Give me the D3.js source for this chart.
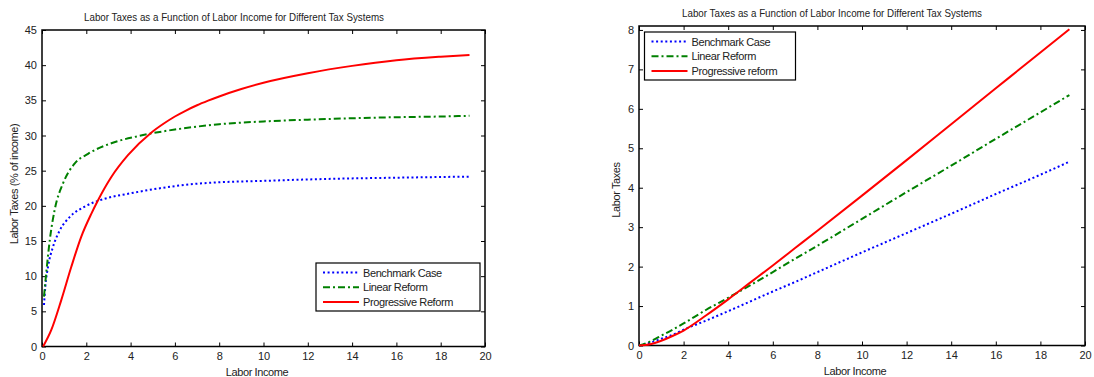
<!DOCTYPE html>
<html lang="en">
<head>
  <meta charset="UTF-8">
  <title>Labor Taxes as a Function of Labor Income</title>
  <style>
    body { margin: 0; background: #fff; font-family: "Liberation Sans", Arial, sans-serif; }
    svg text { font-family: "Liberation Sans", Arial, sans-serif; fill: #222; }
  </style>
</head>
<body>
  <svg width="1094" height="377"></svg>
  <script src="https://d3js.org/d3.v7.min.js"></script>
  <script>

// ---- left panel: average tax rate (% of income) ----
const benchX    = [0.09, 0.15, 0.27, 0.5, 0.8, 1.25, 1.93, 2.83, 4.03, 6, 6.83, 8, 10, 12, 14, 16, 18, 19.3];
const benchRate = [5.9, 8.5, 11.3, 14.2, 16.5, 18.4, 19.9, 21.0, 21.8, 22.8, 23.1, 23.35, 23.55, 23.75, 23.9, 24.0, 24.1, 24.15];

const linX    = [0.09, 0.19, 0.35, 0.57, 0.95, 1.47, 2.08, 3.13, 4.33, 6, 6.83, 8, 10, 12, 14, 16, 18, 19.3];
const linRate = [7.1, 10.4, 15.1, 19.4, 23.2, 26.0, 27.4, 28.9, 29.9, 30.85, 31.2, 31.6, 32.0, 32.25, 32.45, 32.6, 32.7, 32.8];

const progX    = [0.05, 0.42, 0.87, 1.32, 1.77, 2.23, 2.53, 3.13, 3.88, 4.93, 5.5, 6, 6.5, 7, 7.5, 8, 9, 10, 12, 14, 16, 18, 19.3];
const progRate = [0, 2.35, 6.6, 11.3, 15.6, 18.9, 20.8, 24.1, 27.2, 30.4, 31.7, 32.7, 33.55, 34.3, 34.95, 35.55, 36.6, 37.5, 38.85, 39.9, 40.7, 41.2, 41.45];

// ---- right panel: tax level ----
const levelX     = [0, 0.5, 1, 1.5, 2, 3, 4, 5, 6, 7, 8, 10, 12, 14, 16, 18, 19.3];
const benchLevel = [0, 0.07, 0.17, 0.27, 0.40, 0.63, 0.87, 1.12, 1.37, 1.61, 1.86, 2.36, 2.85, 3.34, 3.84, 4.33, 4.66];
const linLevel   = [0, 0.10, 0.25, 0.40, 0.56, 0.90, 1.21, 1.53, 1.86, 2.20, 2.53, 3.21, 3.89, 4.56, 5.24, 5.91, 6.35];
const progLevel  = [0, 0.03, 0.12, 0.24, 0.38, 0.76, 1.17, 1.60, 2.03, 2.47, 2.91, 3.80, 4.70, 5.61, 6.52, 7.43, 8.02];

const xTicks     = [0, 2, 4, 6, 8, 10, 12, 14, 16, 18, 20];
const yTicksLeft = [0, 5, 10, 15, 20, 25, 30, 35, 40, 45];
const yTicksRight = [0, 1, 2, 3, 4, 5, 6, 7, 8];

const titleText = "Labor Taxes as a Function of Labor Income for Different Tax Systems";

const styles = {
  bench: { color: "#0000ff", dash: "2,2.6" },
  lin:   { color: "#008000", dash: "7,3,2,3" },
  prog:  { color: "#ff0000", dash: null }
};

const svg = d3.select("svg");

function zip(xs, ys) { return xs.map((x, i) => [x, ys[i]]); }

function panel(cfg) {
  const x = d3.scaleLinear().domain([0, 20]).range([cfg.left, cfg.right]);
  const y = d3.scaleLinear().domain(cfg.yDomain).range([cfg.bottom, cfg.top]);
  const g = svg.append("g");

  // title (MATLAB puts it a bit left of centre here)
  g.append("text")
    .attr("x", cfg.titleX).attr("y", cfg.titleY)
    .attr("textLength", 300).attr("lengthAdjust", "spacingAndGlyphs")
    .style("font-size", "10.5px")
    .text(titleText);

  const tickFont = sel => sel.selectAll("text").style("font-size", "11px").style("font-family", "Liberation Sans, Arial, sans-serif").attr("fill", "#222");

  g.append("g").attr("transform", `translate(0,${cfg.bottom})`)
    .call(d3.axisBottom(x).tickValues(xTicks).tickSize(-4).tickPadding(6))
    .call(a => a.select(".domain").remove()).call(tickFont);
  g.append("g").attr("transform", `translate(0,${cfg.top})`)
    .call(d3.axisTop(x).tickValues(xTicks).tickSize(-4).tickFormat(""))
    .call(a => a.select(".domain").remove());
  g.append("g").attr("transform", `translate(${cfg.left},0)`)
    .call(d3.axisLeft(y).tickValues(cfg.yTicks).tickSize(-4).tickPadding(5))
    .call(a => a.select(".domain").remove()).call(tickFont);
  g.append("g").attr("transform", `translate(${cfg.right},0)`)
    .call(d3.axisRight(y).tickValues(cfg.yTicks).tickSize(-4).tickFormat(""))
    .call(a => a.select(".domain").remove());

  g.append("rect")
    .attr("x", cfg.left).attr("y", cfg.top)
    .attr("width", cfg.right - cfg.left).attr("height", cfg.bottom - cfg.top)
    .attr("fill", "none").attr("stroke", "#000").attr("stroke-width", 1.5);

  const line = d3.line().x(d => x(d[0])).y(d => y(d[1])).curve(d3.curveMonotoneX);
  cfg.series.forEach(s => {
    g.append("path")
      .datum(s.points)
      .attr("fill", "none")
      .attr("stroke", styles[s.key].color)
      .attr("stroke-width", 2)
      .attr("stroke-dasharray", styles[s.key].dash)
      .attr("d", line);
  });

  // axis labels
  g.append("text")
    .attr("x", cfg.xLabelX).attr("y", cfg.bottom + 29)
    .attr("text-anchor", "middle")
    .style("font-size", "11px").style("letter-spacing", "-0.4px")
    .text("Labor Income");
  g.append("text")
    .attr("transform", `translate(${cfg.yLabelX},${cfg.yLabelY}) rotate(-90)`)
    .attr("text-anchor", "middle")
    .style("font-size", "11px").style("letter-spacing", "-0.4px")
    .text(cfg.yLabel);

  // legend
  const lg = g.append("g");
  lg.append("rect")
    .attr("x", cfg.legend.x).attr("y", cfg.legend.y)
    .attr("width", cfg.legend.w).attr("height", cfg.legend.h)
    .attr("fill", "#fff").attr("stroke", "#000").attr("stroke-width", 1.2);
  cfg.series.forEach((s, i) => {
    const yy = cfg.legend.y + 9.5 + i * 14.7;
    lg.append("line")
      .attr("x1", cfg.legend.x + 7).attr("x2", cfg.legend.x + 43)
      .attr("y1", yy).attr("y2", yy)
      .attr("stroke", styles[s.key].color).attr("stroke-width", 2)
      .attr("stroke-dasharray", styles[s.key].dash);
    lg.append("text")
      .attr("x", cfg.legend.x + 47).attr("y", yy + 4)
      .style("font-size", "11px").style("letter-spacing", "-0.4px")
      .text(s.name);
  });
}

panel({
  left: 42, right: 485, top: 30, bottom: 346.5,
  yDomain: [0, 45], yTicks: yTicksLeft,
  titleX: 84, titleY: 21,
  xLabelX: 257, yLabelX: 18, yLabelY: 184,
  yLabel: "Labor Taxes (% of income)",
  legend: { x: 316, y: 263, w: 164, h: 48 },
  series: [
    { key: "bench", name: "Benchmark Case", points: zip(benchX, benchRate) },
    { key: "lin", name: "Linear Reform", points: zip(linX, linRate) },
    { key: "prog", name: "Progressive Reform", points: zip(progX, progRate) }
  ]
});

panel({
  left: 639, right: 1085, top: 26, bottom: 345.5,
  yDomain: [0, 8.1], yTicks: yTicksRight,
  titleX: 682, titleY: 17,
  xLabelX: 855, yLabelX: 620, yLabelY: 190,
  yLabel: "Labor Taxes",
  legend: { x: 644.5, y: 32, w: 151, h: 48 },
  series: [
    { key: "bench", name: "Benchmark Case", points: zip(levelX, benchLevel) },
    { key: "lin", name: "Linear Reform", points: zip(levelX, linLevel) },
    { key: "prog", name: "Progressive reform", points: zip(levelX, progLevel) }
  ]
});
  </script>
</body>
</html>
